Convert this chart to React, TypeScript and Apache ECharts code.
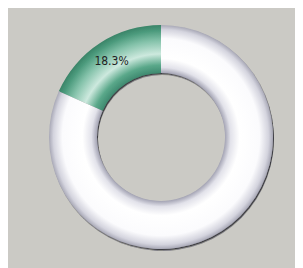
import React, { useEffect, useRef } from "react";
import * as echarts from "echarts";

const categories = ["Share", "Rest"];
const values = [18.3, 81.7];
const labels = ["18.3%", ""];

export default function App() {
  const ref = useRef<HTMLDivElement>(null);
  useEffect(() => {
    if (!ref.current) return;
    const chart = echarts.init(ref.current, undefined, { renderer: "svg" });
    const cx = 161 - 8, cy = 137 - 8, R = 112;
    const rin = 64 / 112;
    const whiteGrad = new echarts.graphic.RadialGradient(cx, cy, R, [
      { offset: 0, color: "#a4a4b4" },
      { offset: rin, color: "#a4a4b4" },
      { offset: rin + 0.05, color: "#e2e2ea" },
      { offset: rin + 0.13, color: "#ffffff" },
      { offset: 0.88, color: "#fbfbfd" },
      { offset: 0.96, color: "#d4d4de" },
      { offset: 1, color: "#a8a8b6" },
    ], true);
    const greenGrad = new echarts.graphic.RadialGradient(cx, cy, R, [
      { offset: 0, color: "#3f8a70" },
      { offset: rin, color: "#3f8a70" },
      { offset: rin + 0.07, color: "#5aa88a" },
      { offset: rin + 0.17, color: "#cde9de" },
      { offset: 0.86, color: "#84c2aa" },
      { offset: 0.95, color: "#4b9a7c" },
      { offset: 1, color: "#3a8468" },
    ], true);
    chart.setOption({
      animation: false,
      backgroundColor: "#cbcac5",
      series: [
        {
          type: "pie",
          center: [cx, cy],
          radius: [64, R],
          startAngle: 90,
          clockwise: false,
          silent: true,
          label: {
            show: true,
            position: "inside",
            formatter: (p: any) => labels[p.dataIndex],
            color: "#222222",
            fontSize: 12,
            fontFamily: "DejaVu Sans Condensed",
            textBorderWidth: 0,
          },
          labelLine: { show: false },
          itemStyle: {
            shadowColor: "rgba(20,20,30,0.75)",
            shadowBlur: 1,
            shadowOffsetX: 1,
            shadowOffsetY: 1.5,
          },
          data: categories.map((c, i) => ({
            name: c,
            value: values[i],
            itemStyle: { color: i === 0 ? greenGrad : whiteGrad },
          })),
        },
      ],
    });
    return () => chart.dispose();
  }, []);
  return <div ref={ref} style={{ width: 295, height: 260 }} />;
}
